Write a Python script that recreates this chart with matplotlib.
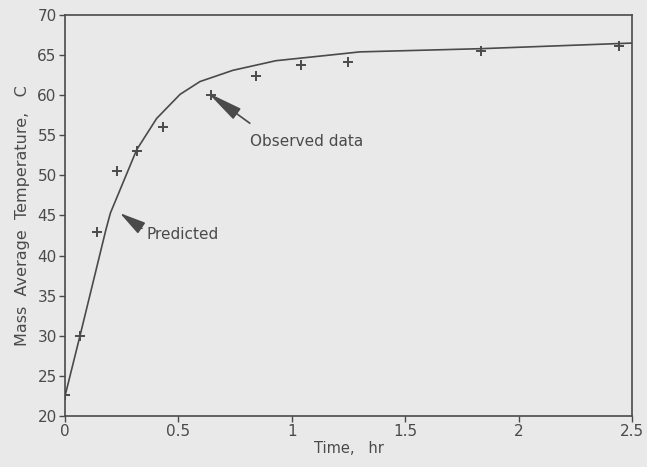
import matplotlib
matplotlib.use("Agg")
from matplotlib import pyplot as plt

# observed data (+ markers)
obs_time = [0.0, 0.066, 0.14, 0.228, 0.316, 0.43, 0.642, 0.84, 1.04, 1.248, 1.834, 2.442]
obs_temp = [22.6, 30.0, 42.9, 50.5, 53.1, 56.0, 60.0, 62.4, 63.8, 64.2, 65.5, 66.1]

# predicted curve
pred_time = [0.0, 0.066, 0.18, 0.2, 0.316, 0.404, 0.507, 0.595, 0.74, 0.93, 1.167, 1.3, 1.834, 2.5]
pred_temp = [22.5, 30.0, 43.2, 45.3, 53.2, 57.1, 60.1, 61.7, 63.1, 64.3, 65.0, 65.4, 65.8, 66.5]

x_ticks = [0, 0.5, 1, 1.5, 2, 2.5]
x_tick_labels = ["0", "0.5", "1", "1.5", "2", "2.5"]
y_ticks = [20, 25, 30, 35, 40, 45, 50, 55, 60, 65, 70]


def main():
    ink = "#4a4a4a"
    bg = "#e9e9e9"
    plt.rcParams["font.family"] = ["DejaVu Sans"]

    fig = plt.figure(figsize=(6.47, 4.67), dpi=100, facecolor=bg)
    ax = fig.add_axes([0.1005, 0.1092, 0.8763, 0.8587], facecolor=bg)

    ax.plot(pred_time, pred_temp, color=ink, linewidth=1.2)
    ax.plot(obs_time, obs_temp, linestyle="none", marker="+", markersize=7,
            markeredgewidth=1.4, color=ink)

    ax.set_xlim(0, 2.5)
    ax.set_ylim(20, 70)
    ax.set_xticks(x_ticks)
    ax.set_xticklabels(x_tick_labels)
    ax.set_yticks(y_ticks)
    ax.tick_params(direction="out", length=4, width=1, colors=ink,
                   labelsize=11, pad=2)
    for s in ax.spines.values():
        s.set_color(ink)
        s.set_linewidth(1.2)

    ax.set_xlabel("Time,   hr", fontsize=10.5, color=ink, labelpad=1)
    ax.set_ylabel("Mass  Average  Temperature,   C", fontsize=11.5, color=ink,
                  labelpad=5)

    # arrows drawn tail -> tip, labels placed beside the tails
    ax.annotate("", xy=(0.63, 60.3), xytext=(0.815, 56.5),
                arrowprops=dict(arrowstyle="-|>,head_length=2.2,head_width=0.4",
                                color=ink, lw=1.2, shrinkA=0, shrinkB=0))
    ax.text(0.815, 54.2, "Observed data", fontsize=11, color=ink,
            va="center", ha="left")
    ax.annotate("", xy=(0.242, 45.3), xytext=(0.339, 43.4),
                arrowprops=dict(arrowstyle="-|>,head_length=1.6,head_width=0.4",
                                color=ink, lw=1.2, shrinkA=0, shrinkB=0))
    ax.text(0.361, 42.6, "Predicted", fontsize=11, color=ink,
            va="center", ha="left")

    fig.savefig("out.png", dpi=100, facecolor=bg)
    plt.close(fig)


if __name__ == "__main__":
    main()
